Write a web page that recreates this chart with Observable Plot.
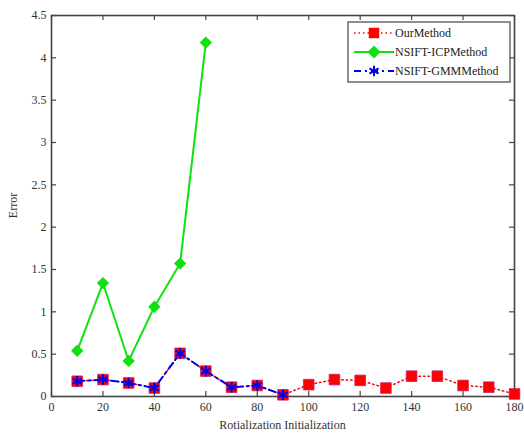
<!DOCTYPE html>
<html><head><meta charset="utf-8">
<script src="https://cdn.jsdelivr.net/npm/d3@7"></script>
<script src="https://cdn.jsdelivr.net/npm/@observablehq/plot@0.6"></script>
<style>
html,body{margin:0;padding:0;background:#fff;}
#chart{width:524px;height:433px;}
</style></head>
<body><div id="chart"></div>
<script>
const angles = [10,20,30,40,50,60,70,80,90,100,110,120,130,140,150,160,170,180];
const ourMethod = [0.18,0.20,0.16,0.10,0.51,0.30,0.11,0.13,0.02,0.14,0.20,0.19,0.10,0.24,0.24,0.13,0.11,0.03];
const icpAngles = [10,20,30,40,50,60];
const icpMethod = [0.54,1.34,0.42,1.06,1.57,4.18];
const gmmAngles = [10,20,30,40,50,60,70,80,90];
const gmmMethod = [0.18,0.20,0.16,0.10,0.51,0.30,0.11,0.13,0.02];
const xTicks = [0,20,40,60,80,100,120,140,160,180];
const yTicks = [0,0.5,1,1.5,2,2.5,3,3.5,4,4.5];
const seriesNames = ["OurMethod","NSIFT-ICPMethod","NSIFT-GMMMethod"];

const our = angles.map((a,i)=>({x:a,y:ourMethod[i]}));
const icp = icpAngles.map((a,i)=>({x:a,y:icpMethod[i]}));
const gmm = gmmAngles.map((a,i)=>({x:a,y:gmmMethod[i]}));

const W=524,H=433,mL=51,mR=10,mT=15,mB=37;
const ph=H-mT-mB, pw=W-mL-mR;
const font='"Liberation Serif","Times New Roman",serif';
const RED="#ff0000", GREEN="#11e011", BLUE="#0000ee", AX="#444";
const DASHDOT="7,4,2,4";

const plot = Plot.plot({
  width:W, height:H, marginLeft:mL, marginRight:mR, marginTop:mT, marginBottom:mB,
  style:{fontFamily:font, fontSize:"12px", color:"#333", background:"#fff"},
  x:{domain:[0,180]},
  y:{domain:[0,4.5]},
  marks:[
    Plot.tickX(xTicks,{x:d=>d, stroke:AX, strokeWidth:1.2, insetTop:ph-5}),
    Plot.tickX(xTicks,{x:d=>d, stroke:AX, strokeWidth:1.2, insetBottom:ph-5}),
    Plot.tickY(yTicks,{y:d=>d, stroke:AX, strokeWidth:1.2, insetRight:pw-5}),
    Plot.tickY(yTicks,{y:d=>d, stroke:AX, strokeWidth:1.2, insetLeft:pw-5}),
    Plot.axisX({ticks:xTicks, tickSize:0, tickPadding:6, label:null, fontSize:12}),
    Plot.axisY({ticks:yTicks, tickSize:0, tickPadding:5, label:null, tickFormat:d=>String(d), fontSize:12}),
    Plot.frame({stroke:AX, strokeWidth:1.6}),
    Plot.line(our,{x:"x",y:"y",stroke:RED,strokeWidth:1.5,strokeDasharray:"1.5,3"}),
    Plot.dot(our,{x:"x",y:"y",symbol:"square",r:6,fill:RED,stroke:"#cc2266",strokeWidth:0.8}),
    Plot.line(icp,{x:"x",y:"y",stroke:GREEN,strokeWidth:2}),
    Plot.dot(icp,{x:"x",y:"y",symbol:"diamond2",r:4.6,fill:GREEN,stroke:GREEN}),
    Plot.line(gmm,{x:"x",y:"y",stroke:BLUE,strokeWidth:2,strokeDasharray:DASHDOT}),
    Plot.dot(gmm,{x:"x",y:"y",symbol:"asterisk",r:5,stroke:BLUE,strokeWidth:2})
  ]
});
document.getElementById("chart").appendChild(plot);

const svg = d3.select(plot);
svg.append("text").attr("x",mL+pw/2).attr("y",429).attr("text-anchor","middle")
  .attr("font-family",font).attr("font-size",12).attr("fill","#333").text("Rotialization Initialization");
svg.append("text").attr("transform",`translate(17,${mT+ph/2}) rotate(-90)`).attr("text-anchor","middle")
  .attr("font-family",font).attr("font-size",12).attr("fill","#333").text("Error");

// legend
const lg = svg.append("g").attr("transform","translate(348,22)");
lg.append("rect").attr("width",162).attr("height",60).attr("fill","#fff").attr("stroke",AX).attr("stroke-width",1.2);
const rows=[{c:RED,dash:"1.5,3",w:1.5,sym:d3.symbolSquare,s:110,fill:RED,stroke:"none"},
            {c:GREEN,dash:null,w:2,sym:d3.symbolDiamond2,s:66,fill:GREEN,stroke:GREEN},
            {c:BLUE,dash:DASHDOT,w:2,sym:d3.symbolAsterisk,s:78,fill:"none",stroke:BLUE}];
rows.forEach((r,i)=>{
  const y=11+i*19;
  const ln=lg.append("line").attr("x1",6).attr("x2",46).attr("y1",y).attr("y2",y).attr("stroke",r.c).attr("stroke-width",r.w);
  if(r.dash) ln.attr("stroke-dasharray",r.dash);
  lg.append("path").attr("d",d3.symbol(r.sym,r.s)()).attr("transform",`translate(26,${y})`)
    .attr("fill",r.fill).attr("stroke",r.stroke).attr("stroke-width",r.stroke==="none"?0:2);
  lg.append("text").attr("x",47).attr("y",y+4).attr("text-anchor","start").attr("font-family",font).attr("font-size",12).attr("fill","#222").text(seriesNames[i]);
});
</script></body></html>
